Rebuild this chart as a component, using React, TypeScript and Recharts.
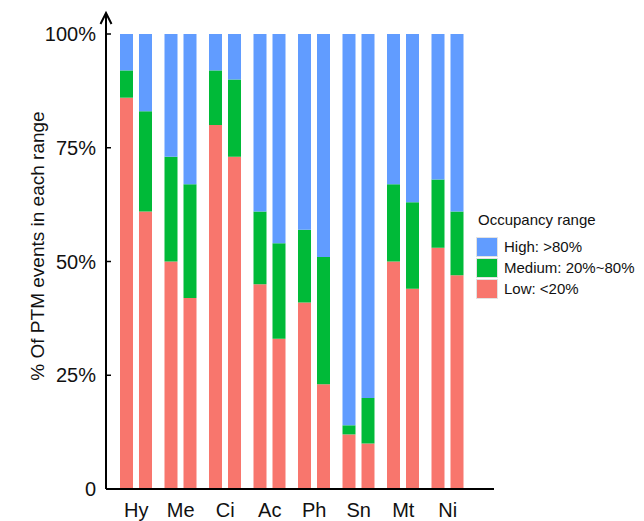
import React from "react"
import { BarChart, Bar, XAxis, YAxis, Legend, Customized } from "recharts"

// categories and values (percent of PTM events), two bars per category
const categories = ["Hy", "Me", "Ci", "Ac", "Ph", "Sn", "Mt", "Ni"]
const lowA = [86, 50, 80, 45, 41, 12, 50, 53]
const medA = [6, 23, 12, 16, 16, 2, 17, 15]
const highA = [8, 27, 8, 39, 43, 86, 33, 32]
const lowB = [61, 42, 73, 33, 23, 10, 44, 47]
const medB = [22, 25, 17, 21, 28, 10, 19, 14]
const highB = [17, 33, 10, 46, 49, 80, 37, 39]
const yTicks = [0, 25, 50, 75, 100]

const legendItems = [
  { label: "High: >80%", color: "#619CFF" },
  { label: "Medium: 20%~80%", color: "#00BA38" },
  { label: "Low: <20%", color: "#F8766D" },
]

const FONT = "'Liberation Sans', Arial, Helvetica, sans-serif"

const data = categories.map((name, i) => ({
  name,
  aLow: lowA[i],
  aMed: medA[i],
  aHigh: highA[i],
  bLow: lowB[i],
  bMed: medB[i],
  bHigh: highB[i],
}))

const LegendBox = () => (
  <div style={{ fontFamily: FONT, color: "#111" }}>
    <div style={{ fontSize: 15, marginBottom: 8, marginLeft: 2 }}>Occupancy range</div>
    {legendItems.map((it) => (
      <div key={it.label} style={{ display: "flex", alignItems: "center", height: 21 }}>
        <div
          style={{
            width: 22,
            height: 20,
            background: it.color,
            border: "1px solid #e2e2e2",
            boxSizing: "border-box",
            marginRight: 6,
          }}
        />
        <span style={{ fontSize: 15, whiteSpace: "nowrap" }}>{it.label}</span>
      </div>
    ))}
  </div>
)

// arrow head on top of the y axis
const AxisArrow = () => (
  <g>
    <line x1={106} y1={15} x2={106} y2={35} stroke="#000" strokeWidth={2} />
    <path d="M100.5,24 L106,13 L111.5,24" fill="none" stroke="#000" strokeWidth={2} />
  </g>
)

const YTitle = () => (
  <text
    x={44}
    y={246}
    transform="rotate(-90 44 246)"
    textAnchor="middle"
    fontSize={19}
    fontFamily={FONT}
    fill="#111"
  >
    % Of PTM events in each range
  </text>
)

export default function App() {
  return (
    <div style={{ position: "absolute", left: 0, top: 0 }}>
      <BarChart
        width={644}
        height={521}
        data={data}
        margin={{ top: 34, right: 150, left: 0, bottom: 0 }}
        barSize={13}
        barGap={6}
      >
        <XAxis
          dataKey="name"
          height={32}
          padding={{ left: 8, right: 24 }}
          tickLine={false}
          tickSize={0}
          tickMargin={14}
          axisLine={{ stroke: "#000", strokeWidth: 2 }}
          tick={{ fontSize: 20, fill: "#111", fontFamily: FONT }}
        />
        <YAxis
          width={106}
          domain={[0, 100]}
          ticks={yTicks}
          interval={0}
          tickSize={-5}
          tickMargin={15}
          tickFormatter={(v: number) => (v === 0 ? "0" : `${v}%`)}
          axisLine={{ stroke: "#000", strokeWidth: 2 }}
          tickLine={{ stroke: "#000", strokeWidth: 1.5 }}
          tick={{ fontSize: 20, fill: "#111", fontFamily: FONT }}
          label={{ content: () => <YTitle /> }}
        />
        <Legend
          layout="vertical"
          align="center"
          verticalAlign="middle"
          content={() => <LegendBox />}
          wrapperStyle={{ left: 476, top: 211, width: 168 }}
        />
        <Bar dataKey="aLow" stackId="a" fill="#F8766D" isAnimationActive={false} />
        <Bar dataKey="aMed" stackId="a" fill="#00BA38" isAnimationActive={false} />
        <Bar dataKey="aHigh" stackId="a" fill="#619CFF" isAnimationActive={false} />
        <Bar dataKey="bLow" stackId="b" fill="#F8766D" isAnimationActive={false} />
        <Bar dataKey="bMed" stackId="b" fill="#00BA38" isAnimationActive={false} />
        <Bar dataKey="bHigh" stackId="b" fill="#619CFF" isAnimationActive={false} />
        <Customized component={<AxisArrow />} />
      </BarChart>
    </div>
  )
}
